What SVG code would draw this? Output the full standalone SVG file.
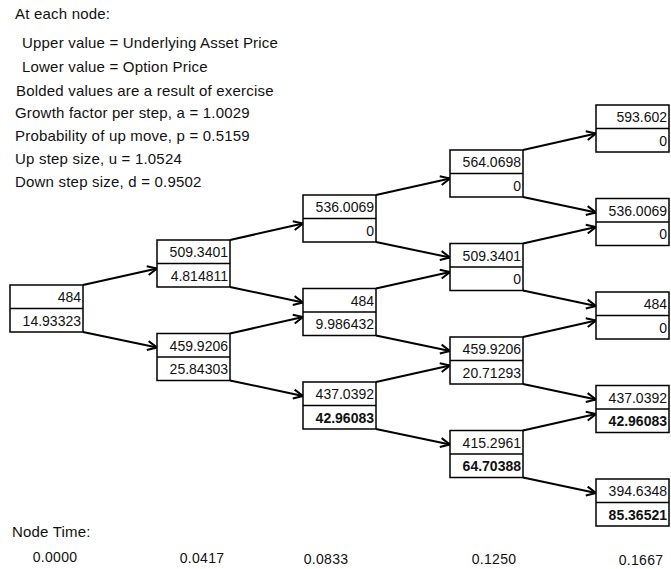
<svg xmlns="http://www.w3.org/2000/svg" width="671" height="569" viewBox="0 0 671 569">
<style>
.bg{fill:#fff}
.box{fill:#fff;stroke:#000;stroke-width:1.5}
.div{stroke:#000;stroke-width:1.3}
.v{font-family:"Liberation Sans",Arial,sans-serif;font-size:14px;fill:#111;text-anchor:end}
.b{font-weight:bold}
.lbl{font-family:"Liberation Sans",Arial,sans-serif;font-size:15px;fill:#111;letter-spacing:0.2px}
.t{font-family:"Liberation Sans",Arial,sans-serif;font-size:14px;fill:#111;text-anchor:middle;letter-spacing:0.3px}
.arr{stroke:#000;stroke-width:2;fill:none;marker-end:url(#ah)}
</style>
<defs>
<marker id="ah" markerUnits="userSpaceOnUse" viewBox="0 0 12 12" refX="10.5" refY="6" markerWidth="12" markerHeight="12" orient="auto">
<path d="M1,1.5 L10.5,6 L1,10.5" fill="none" stroke="#000" stroke-width="2"/>
</marker>
</defs>
<rect class="bg" x="0" y="0" width="671" height="569"/>
<g id="legend">
<text class="lbl" x="15" y="19">At each node:</text>
<text class="lbl" x="22" y="48">Upper value = Underlying Asset Price</text>
<text class="lbl" x="22" y="72">Lower value = Option Price</text>
<text class="lbl" x="16" y="96">Bolded values are a result of exercise</text>
<text class="lbl" x="15" y="118">Growth factor per step, a = 1.0029</text>
<text class="lbl" x="15" y="141">Probability of up move, p = 0.5159</text>
<text class="lbl" x="15" y="164">Up step size, u = 1.0524</text>
<text class="lbl" x="15" y="187">Down step size, d = 0.9502</text>
</g>
<g id="connectors">
<line class="arr" x1="83" y1="285" x2="157" y2="268.5"/>
<line class="arr" x1="83" y1="332" x2="157" y2="347.5"/>
<line class="arr" x1="230" y1="240" x2="303" y2="223.5"/>
<line class="arr" x1="230" y1="287" x2="303" y2="302.5"/>
<line class="arr" x1="230" y1="333.5" x2="303" y2="317"/>
<line class="arr" x1="230" y1="380.5" x2="303" y2="396"/>
<line class="arr" x1="376" y1="195" x2="450" y2="178.5"/>
<line class="arr" x1="376" y1="242" x2="450" y2="257.5"/>
<line class="arr" x1="376" y1="288.5" x2="450" y2="272"/>
<line class="arr" x1="376" y1="335.5" x2="450" y2="351"/>
<line class="arr" x1="376" y1="382" x2="450" y2="365.5"/>
<line class="arr" x1="376" y1="429" x2="450" y2="444.5"/>
<line class="arr" x1="523" y1="150" x2="596" y2="133.5"/>
<line class="arr" x1="523" y1="197" x2="596" y2="212.5"/>
<line class="arr" x1="523" y1="243.5" x2="596" y2="227"/>
<line class="arr" x1="523" y1="290.5" x2="596" y2="306"/>
<line class="arr" x1="523" y1="337" x2="596" y2="320.5"/>
<line class="arr" x1="523" y1="384" x2="596" y2="399.5"/>
<line class="arr" x1="523" y1="430.5" x2="596" y2="414"/>
<line class="arr" x1="523" y1="477.5" x2="596" y2="493"/>
</g>
<g id="n00" transform="translate(10,285)"><rect class="box" width="73" height="47"/><line class="div" x1="0" y1="23.5" x2="73" y2="23.5"/><text class="v" x="71" y="17">484</text><text class="v" x="71" y="40.5">14.93323</text></g>
<g id="n10" transform="translate(157,240)"><rect class="box" width="73" height="47"/><line class="div" x1="0" y1="23.5" x2="73" y2="23.5"/><text class="v" x="71" y="17">509.3401</text><text class="v" x="71" y="40.5">4.814811</text></g>
<g id="n11" transform="translate(157,333.5)"><rect class="box" width="73" height="47"/><line class="div" x1="0" y1="23.5" x2="73" y2="23.5"/><text class="v" x="71" y="17">459.9206</text><text class="v" x="71" y="40.5">25.84303</text></g>
<g id="n20" transform="translate(303,195)"><rect class="box" width="73" height="47"/><line class="div" x1="0" y1="23.5" x2="73" y2="23.5"/><text class="v" x="71" y="17">536.0069</text><text class="v" x="71" y="40.5">0</text></g>
<g id="n21" transform="translate(303,288.5)"><rect class="box" width="73" height="47"/><line class="div" x1="0" y1="23.5" x2="73" y2="23.5"/><text class="v" x="71" y="17">484</text><text class="v" x="71" y="40.5">9.986432</text></g>
<g id="n22" transform="translate(303,382)"><rect class="box" width="73" height="47"/><line class="div" x1="0" y1="23.5" x2="73" y2="23.5"/><text class="v" x="71" y="17">437.0392</text><text class="v b" x="71" y="40.5">42.96083</text></g>
<g id="n30" transform="translate(450,150)"><rect class="box" width="73" height="47"/><line class="div" x1="0" y1="23.5" x2="73" y2="23.5"/><text class="v" x="71" y="17">564.0698</text><text class="v" x="71" y="40.5">0</text></g>
<g id="n31" transform="translate(450,243.5)"><rect class="box" width="73" height="47"/><line class="div" x1="0" y1="23.5" x2="73" y2="23.5"/><text class="v" x="71" y="17">509.3401</text><text class="v" x="71" y="40.5">0</text></g>
<g id="n32" transform="translate(450,337)"><rect class="box" width="73" height="47"/><line class="div" x1="0" y1="23.5" x2="73" y2="23.5"/><text class="v" x="71" y="17">459.9206</text><text class="v" x="71" y="40.5">20.71293</text></g>
<g id="n33" transform="translate(450,430.5)"><rect class="box" width="73" height="47"/><line class="div" x1="0" y1="23.5" x2="73" y2="23.5"/><text class="v" x="71" y="17">415.2961</text><text class="v b" x="71" y="40.5">64.70388</text></g>
<g id="n40" transform="translate(596,105)"><rect class="box" width="73" height="47"/><line class="div" x1="0" y1="23.5" x2="73" y2="23.5"/><text class="v" x="71" y="17">593.602</text><text class="v" x="71" y="40.5">0</text></g>
<g id="n41" transform="translate(596,198.5)"><rect class="box" width="73" height="47"/><line class="div" x1="0" y1="23.5" x2="73" y2="23.5"/><text class="v" x="71" y="17">536.0069</text><text class="v" x="71" y="40.5">0</text></g>
<g id="n42" transform="translate(596,292)"><rect class="box" width="73" height="47"/><line class="div" x1="0" y1="23.5" x2="73" y2="23.5"/><text class="v" x="71" y="17">484</text><text class="v" x="71" y="40.5">0</text></g>
<g id="n43" transform="translate(596,385.5)"><rect class="box" width="73" height="47"/><line class="div" x1="0" y1="23.5" x2="73" y2="23.5"/><text class="v" x="71" y="17">437.0392</text><text class="v b" x="71" y="40.5">42.96083</text></g>
<g id="n44" transform="translate(596,479)"><rect class="box" width="73" height="47"/><line class="div" x1="0" y1="23.5" x2="73" y2="23.5"/><text class="v" x="71" y="17">394.6348</text><text class="v b" x="71" y="40.5">85.36521</text></g>
<g id="times">
<text class="lbl" x="12" y="537">Node Time:</text>
<text class="t" x="55" y="562">0.0000</text>
<text class="t" x="202" y="563">0.0417</text>
<text class="t" x="326" y="564">0.0833</text>
<text class="t" x="494" y="564">0.1250</text>
<text class="t" x="641" y="565">0.1667</text>
</g>
</svg>
